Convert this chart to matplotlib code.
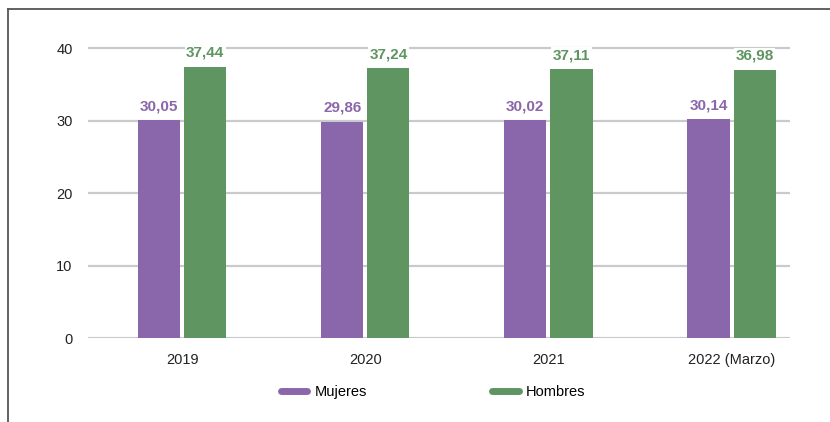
import numpy as np
import matplotlib.pyplot as plt
from matplotlib.lines import Line2D

plt.rcParams['font.family'] = ['Liberation Sans', 'DejaVu Sans']

years = ['2019', '2020', '2021', '2022 (Marzo)']
mujeres = [30.05, 29.86, 30.02, 30.14]
hombres = [37.44, 37.24, 37.11, 36.98]

c_muj = '#8a67ab'
c_hom = '#5f9560'
c_grid = '#c8cacd'

fig = plt.figure(figsize=(8.3, 4.22), dpi=100)
ax = fig.add_axes([0.106, 0.199, 0.846, 0.7216])

x = np.arange(len(years))
w = 0.23
b1 = ax.bar(x - 0.126, mujeres, w, color=c_muj, label='Mujeres', zorder=2)
b2 = ax.bar(x + 0.126, hombres, w, color=c_hom, label='Hombres', zorder=2)

def fmt(v):
    return f'{v:.2f}'.replace('.', ',')

for bars, vals, col in [(b1, mujeres, c_muj), (b2, hombres, c_hom)]:
    txts = ax.bar_label(bars, labels=[fmt(v) for v in vals], padding=5,
                        color=col, fontsize=11, fontweight='bold', zorder=3)
    for t in txts:
        t.set_bbox(dict(facecolor='white', edgecolor='none', pad=1))

ax.set_ylim(0, 42)
ax.set_xlim(-0.514, 3.32)
ax.set_yticks([0, 10, 20, 30, 40])
ax.set_xticks(x)
ax.set_xticklabels(years)
ax.set_axisbelow(True)
ax.yaxis.grid(True, color=c_grid, lw=1.6)
for s in ax.spines.values():
    s.set_visible(False)
ax.tick_params(length=0, labelsize=10.5, colors='#222222')
ax.tick_params(axis='x', pad=11)
ax.tick_params(axis='y', pad=11)

handles = [Line2D([], [], color=c_muj, lw=5, solid_capstyle='round'),
           Line2D([], [], color=c_hom, lw=5, solid_capstyle='round')]
fig.legend(handles, ['Mujeres', 'Hombres'], loc='center', bbox_to_anchor=(0.522, 0.07),
           ncol=2, frameon=False, fontsize=10.5, handlelength=1.8, handletextpad=0.5,
           columnspacing=8.6)

# marco
fig.add_artist(Line2D([8 / 830, 1], [1 - 9 / 422, 1 - 9 / 422], color='#555555', lw=1.3,
                      transform=fig.transFigure))
fig.add_artist(Line2D([8 / 830, 8 / 830], [0, 1 - 9 / 422], color='#555555', lw=1.3,
                      transform=fig.transFigure))

fig.savefig('out.png', dpi=100)
